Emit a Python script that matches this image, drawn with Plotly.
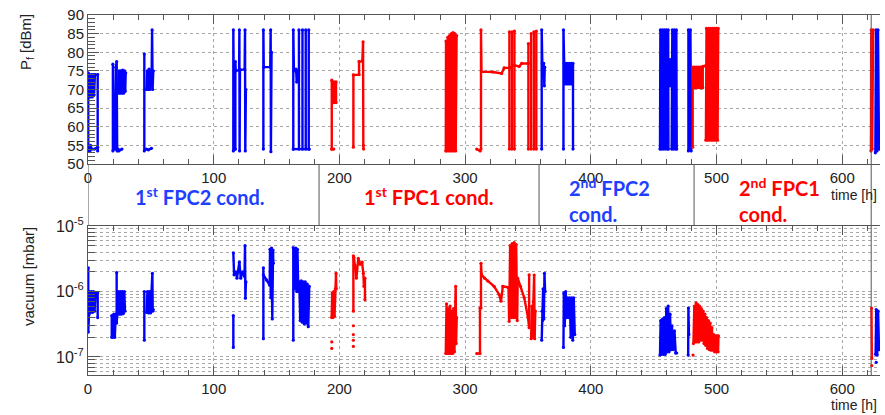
import plotly.graph_objects as go

# time axis [h]
x_range = [0, 630]
x_frame_end = 623
x_ticks = [0, 100, 200, 300, 400, 500, 600]

# forward power P_f [dBm]; each sublist is one contiguous stretch of (time h, dBm)
pf_fpc2 = [
    [(0.2, 53.5), (0.2, 74.5), (0.8, 68), (1.3, 74), (2, 68), (2.7, 74), (3.4, 68), (4.1, 74), (4.8, 68.5), (5.5, 74), (7.7, 74), (7.7, 53.5)],
    [(0.2, 54), (1.5, 53.5), (2, 55), (3, 54), (5, 54), (7.7, 54.5)],
    [(19.8, 53.5), (19.8, 76.8), (20.6, 54), (21.6, 54), (22.2, 76), (22.8, 77.5), (23.2, 53.5), (24, 54)],
    [(24.3, 69), (24.8, 75), (25.5, 69), (26.2, 75), (26.9, 69), (27.6, 75.2), (28.3, 69), (29, 75), (29.6, 69.5), (30, 74.5)],
    [(24.5, 53.5), (27, 54)],
    [(44.8, 53.5), (44.8, 79.5)],
    [(46.5, 70), (47.2, 75), (47.9, 70), (48.6, 75.5), (49.3, 70), (50, 75), (50.5, 71), (51, 86), (51.4, 70), (51.9, 75)],
    [(46.5, 54), (48, 53.8), (50.5, 54.2)],
    [(115.6, 53.5), (115.6, 86), (116.3, 54), (117.2, 54), (117.2, 77.5), (117.5, 75), (120.2, 75.2), (120.4, 86), (120.6, 53.5),
     (120.9, 75.3), (124.6, 75.4), (124.9, 86), (125.1, 53.5), (125.6, 70)],
    [(139.5, 54), (139.5, 86), (139.8, 76), (145, 76), (145.3, 86), (145.5, 53.3), (146, 80)],
    [(163.3, 54), (163.3, 86), (163.8, 75), (165.5, 75.5), (166, 72), (166.7, 75)],
    [(167.8, 54), (167.8, 86)], [(170.6, 54), (170.6, 86)],
    [(173.2, 54), (173.2, 86)], [(175.6, 54), (175.6, 86)],
    [(163.3, 54), (176, 54)],
    [(360.9, 54), (360.9, 86), (361.4, 77), (362.5, 77), (363, 71), (363.3, 76)],
    [(378.2, 54), (378.2, 86), (378.8, 77), (379.4, 71.5), (380.1, 77), (380.8, 71.5), (381.5, 77), (382.2, 71.5), (382.9, 77),
     (383.6, 71.5), (384.3, 77), (385, 71.5), (385.8, 77), (385.8, 54)],
    [(455, 54), (455.3, 86), (456.1, 54), (456.9, 86), (457.7, 54), (458.5, 86), (459.3, 54), (460.1, 86), (460.9, 54), (461.5, 86), (461.7, 54)],
    [(461.7, 78), (462.4, 71), (463.1, 78), (463.8, 71), (464.3, 78)],
    [(464.3, 54), (464.8, 86), (465.6, 54), (466.4, 86), (467.2, 54), (468, 86), (468.3, 54)],
    [(477.6, 53.5), (477.6, 86), (478.4, 54), (479.2, 86), (479.8, 53.5)],
    [(626.3, 53), (626.8, 86), (627.6, 53.5), (628.4, 86), (629.2, 54)],
]

pf_fpc1 = [
    [(193.9, 54), (193.9, 72.5), (194.5, 66.7), (195.1, 72), (195.7, 66.5), (196.3, 72), (197.3, 72), (197.3, 66.5)],
    [(193.9, 54), (195.5, 54)],
    [(211.1, 54.5), (211.1, 73.9), (215.6, 74), (215.6, 77.5), (218.2, 77.6), (218.8, 82.8), (219, 55), (219.2, 54)],
    [(284.6, 53.5), (284.8, 83), (285.5, 53.5), (286.2, 84), (286.9, 53.5), (287.6, 84.5), (288.3, 53.5), (289, 85), (289.7, 53.5),
     (290.4, 85.3), (291.1, 53.5), (291.8, 85), (292.5, 53.5), (293.2, 84.5)],
    [(309.2, 54), (312, 53.5)],
    [(312.6, 54), (312.6, 86), (313, 74.8), (322, 74.7), (329, 74.3), (331, 75.8), (335.2, 75.8), (339.2, 76.5), (343, 76.2),
     (345, 77), (350.3, 77)],
    [(335.2, 54), (335.2, 85.5)], [(337.2, 54), (337.2, 85.5)], [(339.2, 54), (339.2, 85.7)],
    [(350.3, 54), (350.3, 82.3)], [(352.5, 54), (352.5, 85)], [(354.7, 54), (354.7, 85.5)], [(356.6, 54), (356.6, 85.7)],
    [(481, 54.5), (481, 76), (481.8, 70.5), (482.6, 76), (483.4, 70.5), (484.2, 76), (485, 70.5), (485.8, 76), (486.6, 70.5),
     (487.4, 76), (488.2, 70.5), (489, 76), (489, 70.5)],
    [(489, 76.2), (491.5, 76.4)],
    [(491.5, 56.4), (492, 86.4), (492.8, 56.4), (493.6, 86.4), (494.4, 56.4), (495.2, 86.4), (496, 56.4), (496.8, 86.4),
     (497.6, 56.4), (498.4, 86.4), (499.2, 56.4), (500, 86.4), (500.8, 56.4), (501.3, 86.4)],
    [(622.8, 53.5), (623, 86), (623.8, 54), (624.5, 86)],
]

# vacuum [mbar]
vac_fpc2 = [
    [(0.2, 2.3e-6), (0.2, 2.4e-7), (0.8, 4.5e-7), (1.2, 1e-6), (2, 4.8e-7), (2.8, 1e-6), (3.6, 4.8e-7), (4.4, 1e-6), (5.2, 5e-7),
     (6, 9.5e-7), (7.7, 9.5e-7), (7.7, 4e-7)],
    [(18.9, 2e-7), (18.9, 4.3e-7), (19.7, 2e-7), (20.5, 4.5e-7), (21.3, 2e-7), (22.1, 4.5e-7)],
    [(22.8, 1.95e-6), (22.8, 3.3e-7), (23.5, 5e-7), (24.1, 1e-6), (24.9, 4.5e-7), (25.7, 1e-6), (26.5, 4.5e-7), (27.3, 1e-6),
     (28.1, 4.6e-7), (28.9, 1e-6), (29.4, 5e-7)],
    [(44.8, 1e-6), (44.8, 1.8e-7)],
    [(46.6, 4.8e-7), (47.3, 1e-6), (48.1, 4.7e-7), (48.9, 1e-6), (49.7, 4.7e-7), (50.5, 1e-6), (51.2, 1.9e-6), (51.5, 5e-7), (51.9, 5.3e-7)],
    [(115.6, 1.4e-7), (115.6, 4.3e-7)],
    [(115.6, 3.9e-6), (116.2, 1.8e-6), (117.5, 2e-6), (118.5, 1.6e-6), (120.4, 2.8e-6), (121.5, 1.6e-6), (123, 2e-6),
     (124.5, 1.7e-6), (124.9, 5e-6), (125.2, 7.9e-7), (125.6, 1.4e-6)],
    [(139.5, 2.3e-6), (139.5, 1.9e-7)],
    [(139.5, 1.8e-6), (142, 1.5e-6), (144.5, 1.25e-6), (144.8, 4.4e-6), (145.4, 8e-7), (146, 4.6e-6), (146.6, 3.8e-7),
     (147.2, 4.3e-6), (147.4, 2.7e-6)],
    [(163.3, 4.7e-6), (163.3, 1.8e-7)],
    [(164, 4.4e-6), (164.6, 1.1e-6), (165.3, 4.6e-6), (166, 1e-6), (166.6, 4.4e-6), (167.3, 1e-6), (168.1, 1.4e-6), (168.8, 3.6e-7),
     (169.6, 1.45e-6), (170.4, 3.4e-7), (171.2, 1.4e-6), (172, 3.2e-7), (172.8, 1.4e-6), (173.6, 3.3e-7), (174.4, 1.3e-6),
     (175.2, 2.9e-7), (176, 1.2e-6)],
    [(360.9, 1.8e-7), (361.2, 5e-7), (361.6, 3.6e-7), (362, 1.1e-6), (362.6, 3.8e-7), (363.1, 1.9e-6), (363.6, 1e-6)],
    [(378.2, 1.4e-7), (378.5, 9.5e-7), (379.2, 3e-7), (380, 1e-6), (380.8, 4e-7), (381.6, 8e-7), (382.4, 4e-7), (383.2, 8e-7),
     (384, 2e-7), (384.8, 8e-7), (385.6, 1.8e-7), (386.4, 8e-7), (387.2, 2.2e-7)],
    [(455, 1.07e-7), (455.5, 3.6e-7), (456.3, 1.1e-7), (457, 3.8e-7), (457.8, 1.1e-7), (458.5, 4e-7), (459.2, 1.1e-7), (460, 5.5e-7),
     (460.8, 1.2e-7), (461.5, 6e-7), (462.2, 1.2e-7), (463, 4.5e-7), (463.8, 1.3e-7), (464.5, 3e-7), (465.5, 1.3e-7),
     (466.5, 2.5e-7), (467.5, 1.15e-7), (468.3, 1.15e-7)],
    [(477.4, 1.07e-7), (477.6, 5.6e-7), (478, 2.2e-7)],
    [(626.5, 1.1e-7), (627, 5.3e-7), (627.8, 1.07e-7), (628.5, 5e-7), (629.2, 1.3e-7)],
    [(627, 8.3e-8)],
]

vac_fpc1 = [
    [(193.8, 4e-7), (194.3, 9.5e-7), (194.9, 4e-7), (195.5, 1e-6), (196.1, 4.2e-7), (196.7, 1.1e-6), (197.3, 1.9e-6), (197.5, 1.1e-6)],
    [(193.9, 1.7e-7)],
    [(193.9, 1.35e-7)],
    [(211.1, 3.5e-6), (211.1, 5e-7)],
    [(211.1, 3e-7)], [(211.1, 2.2e-7)], [(211.1, 1.8e-7)], [(211.1, 1.45e-7)],
    [(211.5, 3.3e-6), (212.5, 2.5e-6), (213.5, 1.6e-6), (215, 3.2e-6), (216.5, 2.6e-6), (218, 2.8e-6), (219, 1.9e-6), (219.5, 1.2e-6)],
    [(220.3, 1.6e-6), (220.3, 7.5e-7)],
    [(284.6, 1.13e-7), (285.2, 6.5e-7), (285.9, 1.13e-7), (286.6, 5.5e-7), (287.3, 1.13e-7), (288, 6e-7), (288.7, 1.13e-7),
     (289.4, 5e-7), (290.1, 1.13e-7), (290.8, 5.5e-7), (291.5, 1.2e-7), (292.2, 7e-7), (292.5, 1.2e-6), (292.8, 1.6e-7), (293.3, 4e-7)],
    [(309.2, 1.13e-7), (311.8, 1.13e-7), (311.8, 5.6e-7)],
    [(312.6, 5.6e-7), (312.6, 2.7e-6), (313.1, 1.8e-6), (315.5, 1.6e-6), (318, 1.45e-6), (323, 1.2e-6), (327, 9e-7), (328.5, 7.1e-7),
     (330, 1.2e-6), (334.5, 1.15e-6), (335, 3.5e-7), (335.8, 5e-6), (336.6, 4e-7), (337.4, 5.4e-6), (338.2, 4e-7), (339, 5.6e-6),
     (339.8, 4e-7), (340.6, 5.2e-6), (341.4, 3.6e-7), (341.8, 1.6e-6), (344, 1.2e-6), (347, 8e-7), (350, 4e-7), (350.9, 2.8e-7),
     (350.9, 1.8e-6)],
    [(352.5, 1.9e-7), (353, 6e-7), (353.5, 2e-7), (354.2, 7e-7), (354.9, 1.78e-6), (355.3, 1.9e-7), (355.8, 5e-7)],
    [(481.6, 1.6e-7), (482.3, 6e-7), (483, 1.7e-7), (483.7, 6.7e-7), (484.4, 1.7e-7), (485.1, 6.3e-7), (485.8, 1.7e-7), (486.5, 6e-7),
     (487.2, 1.8e-7), (487.9, 5.5e-7), (488.6, 1.8e-7), (489.3, 5e-7), (490, 1.6e-7), (490.7, 4.5e-7), (491.4, 1.5e-7), (492.1, 4e-7),
     (492.8, 1.35e-7), (493.5, 3.6e-7), (494.2, 1.3e-7), (494.9, 3.3e-7), (495.6, 1.27e-7), (496.3, 2.8e-7), (497, 1.27e-7),
     (497.7, 2.2e-7), (498.4, 1.2e-7), (499.1, 2.1e-7), (499.8, 1.2e-7), (500.5, 2.1e-7), (501.2, 1.2e-7), (501.5, 2.1e-7)],
    [(481.3, 1.07e-7)],
    [(623.2, 5.6e-7), (623.5, 9.5e-8)],
    [(623.4, 7.4e-8)],
]

# conditioning phases shown in the band between the panels
phase_edges = [183.8, 358.8, 482.1]
phase_labels = [
    ('1<sup>st</sup> FPC2 cond.', 200, 196, 'center', '#1f3fff'),
    ('1<sup>st</sup> FPC1 cond.', 429, 196, 'center', '#ff0000'),
    ('2<sup>nd</sup> FPC2<br>cond.', 567, 200, 'left', '#1f3fff'),
    ('2<sup>nd</sup> FPC1<br>cond.', 737, 200, 'left', '#ff0000'),
]

W, H = 885, 415
ML, MR, MT, MB = 88, 5, 15, 40
TOP_DOM = [0.5861, 1.0]
BOT_DOM = [0.0, 0.4139]
BLUE = '#0000ff'
RED = '#ff0000'
GRID = '#a8a8a8'
TXT = '#222222'
FONT = 'Liberation Sans, Arial, sans-serif'


def unpack(segments):
    xs, ys = [], []
    for seg in segments:
        for t, v in seg:
            xs.append(t)
            ys.append(v)
        xs.append(None)
        ys.append(None)
    return xs, ys


def px(x, y):
    # pixel position -> paper coordinates
    return (x - ML) / (W - ML - MR), (H - MB - y) / (H - MT - MB)


fig = go.Figure()

for segs, col, xa, ya in [(pf_fpc2, BLUE, 'x', 'y'), (pf_fpc1, RED, 'x', 'y'),
                          (vac_fpc2, BLUE, 'x2', 'y2'), (vac_fpc1, RED, 'x2', 'y2')]:
    xs, ys = unpack(segs)
    fig.add_trace(go.Scatter(
        x=xs, y=ys, xaxis=xa, yaxis=ya, mode='lines+markers',
        line=dict(color=col, width=2.4), marker=dict(color=col, size=3.2),
        connectgaps=False, showlegend=False, hoverinfo='skip'
    ))

xaxis_common = dict(
    range=x_range, tickvals=x_ticks, ticks='inside', ticklen=9, tickcolor='#555',
    showline=True, linecolor='#555', linewidth=1, mirror='ticks', automargin=False,
    showgrid=True, gridcolor=GRID, griddash='dot', gridwidth=1, zeroline=False,
    minor=dict(dtick=20, ticks='inside', ticklen=5, tickcolor='#555', showgrid=False),
    tickfont=dict(family=FONT, size=15, color=TXT),
)

fig.update_layout(
    width=W, height=H,
    margin=dict(l=ML, r=MR, t=MT, b=MB, autoexpand=False),
    paper_bgcolor='white', plot_bgcolor='white',
    xaxis=dict(anchor='y', **xaxis_common),
    xaxis2=dict(anchor='y2', matches='x', **xaxis_common),
    yaxis=dict(
        domain=TOP_DOM, anchor='x', range=[50, 90], tickvals=[50, 55, 60, 65, 70, 75, 80, 85, 90],
        ticks='inside', ticklen=11, tickcolor='#555', showline=True, linecolor='#555', linewidth=1, automargin=False,
        showgrid=True, gridcolor=GRID, griddash='dot', gridwidth=1, zeroline=False,
        minor=dict(dtick=1, ticks='inside', ticklen=7, tickcolor='#555', showgrid=False),
        tickfont=dict(family=FONT, size=15, color=TXT),
    ),
    yaxis2=dict(
        domain=BOT_DOM, anchor='x2', type='log', range=[-7.275, -5.0], automargin=False,
        tickvals=[1e-7, 1e-6, 1e-5], ticktext=['10<sup>-7</sup>', '10<sup>-6</sup>', '10<sup>-5</sup>'],
        ticks='inside', ticklen=12, tickcolor='#555', showline=True, linecolor='#555', linewidth=1,
        showgrid=True, gridcolor=GRID, griddash='dot', gridwidth=1, zeroline=False,
        minor=dict(tickvals=[m * 10.0 ** e for e in (-8, -7, -6) for m in range(2, 10)],
                   ticks='inside', ticklen=7, tickcolor='#555',
                   showgrid=True, gridcolor=GRID, griddash='dot', gridwidth=1),
        tickfont=dict(family=FONT, size=16, color=TXT),
    ),
)

# right frame edge, band borders and phase separators
shapes = [dict(type='line', xref='x', yref='paper', x0=x_frame_end, x1=x_frame_end, y0=0, y1=1,
               line=dict(color='#555', width=1))]
shapes.append(dict(type='line', xref='x', yref='paper', x0=0, x1=0, y0=BOT_DOM[1], y1=TOP_DOM[0],
                   line=dict(color='#555', width=1)))
for e in phase_edges:
    shapes.append(dict(type='line', xref='x', yref='paper', x0=e, x1=e, y0=BOT_DOM[1], y1=TOP_DOM[0],
                       line=dict(color='#555', width=1)))
fig.update_layout(shapes=shapes)

for text, x, y, anchor, col in phase_labels:
    ax, ay = px(x, y)
    fig.add_annotation(text='<b>' + text + '</b>', x=ax, y=ay, xref='paper', yref='paper',
                       xanchor=anchor, yanchor='middle', align='left', showarrow=False,
                       font=dict(family='Lato, Open Sans, sans-serif', size=20, color=col))

for ty in (195, 405):
    ax, ay = px(879, ty)
    fig.add_annotation(text='time [h]', x=ax, y=ay, xref='paper', yref='paper', xanchor='right',
                       yanchor='middle', showarrow=False, font=dict(family=FONT, size=14, color=TXT))

ax, ay = px(27, 42)
fig.add_annotation(text='P<sub>f</sub> [dBm]', x=ax, y=ay, xref='paper', yref='paper', textangle=-90,
                   xanchor='center', yanchor='middle', showarrow=False, font=dict(family=FONT, size=15, color=TXT))
ax, ay = px(28, 277)
fig.add_annotation(text='vacuum [mbar]', x=ax, y=ay, xref='paper', yref='paper', textangle=-90,
                   xanchor='center', yanchor='middle', showarrow=False, font=dict(family=FONT, size=15, color=TXT))

# the page's default body margin would shift the figure off the window
fig.write_html('out.html', config={'displayModeBar': False},
               post_script="document.body.style.margin='0';")
